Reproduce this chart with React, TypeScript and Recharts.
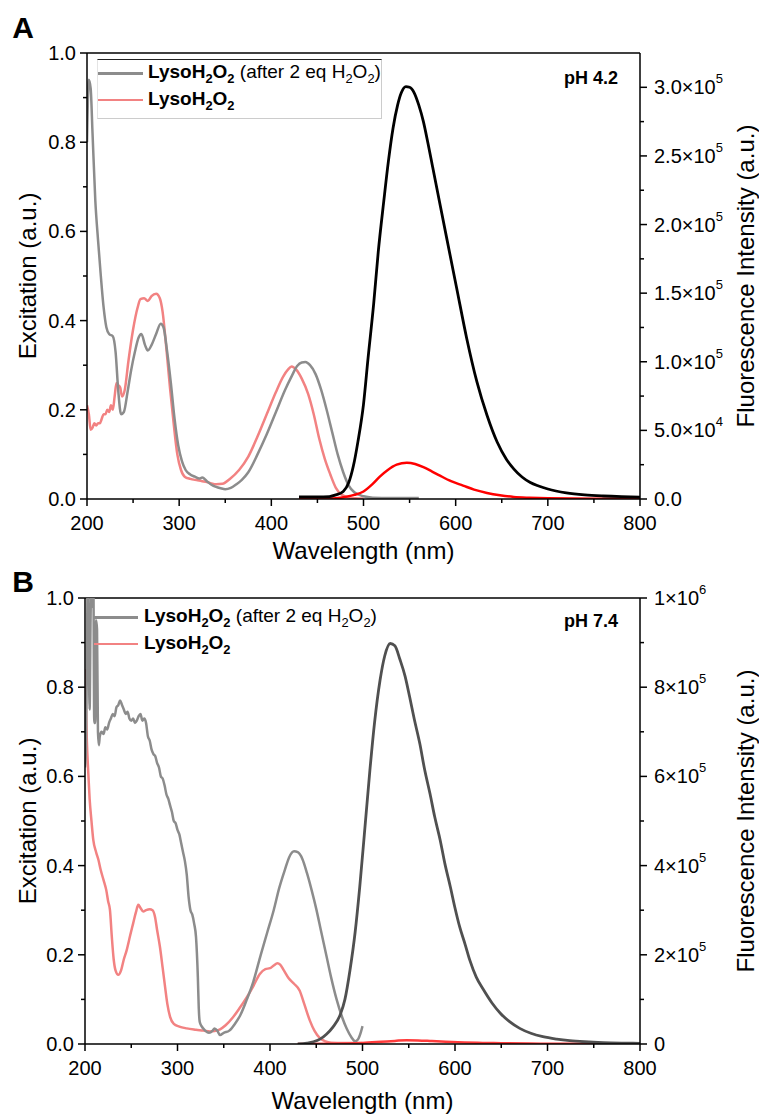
import React from 'react';
import { ComposedChart, Line, XAxis, YAxis, ReferenceLine } from 'recharts';

const FONT = '"Liberation Sans", Arial, Helvetica, sans-serif';

// shared axis ticks
const xTicks = [200, 250, 300, 350, 400, 450, 500, 550, 600, 650, 700, 750, 800];
const leftTicks = [0, 0.1, 0.2, 0.3, 0.4, 0.5, 0.6, 0.7, 0.8, 0.9, 1.0];
const rightTicksA = [0, 25000, 50000, 75000, 100000, 125000, 150000, 175000, 200000, 225000, 250000, 275000, 300000];
const rightTicksB = [0, 100000, 200000, 300000, 400000, 500000, 600000, 700000, 800000, 900000, 1000000];

// Panel A (pH 4.2) - excitation [nm, a.u.]
const exAfterA: [number, number][] = [
  [200, 0.8], [202, 0.94], [204, 0.92], [206, 0.82], [209, 0.67], [212, 0.58], [215, 0.5], [218, 0.43],
  [221, 0.385], [224, 0.37], [228, 0.365], [231, 0.33], [234, 0.24], [237, 0.19], [240, 0.195], [244, 0.24],
  [248, 0.29], [252, 0.33], [256, 0.362], [259, 0.37], [263, 0.345], [266, 0.333], [270, 0.345], [275, 0.37],
  [280, 0.393], [283, 0.385], [287, 0.33], [291, 0.26], [295, 0.18], [299, 0.12], [303, 0.085], [307, 0.065],
  [312, 0.055], [317, 0.05], [322, 0.046], [325, 0.048], [330, 0.04], [335, 0.032], [340, 0.027], [345, 0.024],
  [350, 0.022], [356, 0.025], [362, 0.033], [368, 0.043], [375, 0.06], [385, 0.1], [395, 0.145], [405, 0.195],
  [415, 0.245], [422, 0.275], [428, 0.298], [433, 0.306], [437, 0.307], [442, 0.3], [448, 0.28], [454, 0.245],
  [460, 0.2], [466, 0.15], [472, 0.1], [478, 0.06], [484, 0.03], [490, 0.015], [500, 0.006], [510, 0.003],
  [530, 0.002], [560, 0.002],
];
const exBeforeA: [number, number][] = [
  [200, 0.21], [202, 0.19], [204, 0.155], [206, 0.16], [208, 0.17], [210, 0.165], [212, 0.17], [214, 0.17],
  [216, 0.18], [218, 0.19], [220, 0.19], [222, 0.2], [224, 0.195], [226, 0.21], [228, 0.2], [230, 0.23],
  [232, 0.26], [234, 0.255], [236, 0.25], [238, 0.23], [241, 0.245], [245, 0.31], [250, 0.38], [255, 0.43],
  [258, 0.448], [262, 0.45], [266, 0.444], [270, 0.455], [275, 0.46], [279, 0.45], [282, 0.42], [286, 0.34],
  [290, 0.25], [294, 0.17], [298, 0.1], [302, 0.065], [306, 0.05], [312, 0.045], [320, 0.042], [325, 0.04],
  [330, 0.038], [335, 0.035], [340, 0.033], [347, 0.034], [355, 0.045], [365, 0.065], [375, 0.095], [385, 0.14],
  [395, 0.19], [405, 0.24], [413, 0.275], [418, 0.29], [422, 0.297], [427, 0.29], [433, 0.27], [440, 0.235],
  [446, 0.19], [452, 0.135], [458, 0.09], [464, 0.055], [470, 0.025], [476, 0.01], [485, 0.003], [500, 0.001],
];
// Panel A - emission [nm, counts]
const emAfterA: [number, number][] = [
  [430, 1500], [450, 1500], [463, 1800], [470, 3000], [478, 5500], [484, 12000], [489, 24000], [494, 42000],
  [500, 69000], [505, 103000], [511, 142000], [516, 180000], [522, 217000], [527, 246000], [532, 270000],
  [537, 287000], [541, 296000], [546, 300500], [550, 300000], [555, 296000], [560, 287000], [565, 275000],
  [570, 259000], [575, 242000], [580, 225000], [590, 191000], [601, 154000], [612, 117000], [623, 85500],
  [634, 61000], [645, 41500], [655, 29000], [663, 22000], [672, 16000], [681, 12000], [690, 9500], [700, 7300],
  [720, 4500], [740, 3000], [760, 2200], [780, 1700], [800, 1400],
];
const emBeforeA: [number, number][] = [
  [430, 0], [460, 300], [470, 600], [480, 1500], [490, 3000], [500, 5500], [510, 11000], [518, 16500],
  [526, 21000], [536, 25000], [547, 26400], [556, 25500], [565, 23200], [574, 20200], [583, 17000], [595, 13000],
  [608, 9800], [620, 6800], [634, 4400], [648, 2700], [663, 1500], [680, 900], [700, 500], [750, 250], [800, 150],
];

// Panel B (pH 7.4) - excitation
const exAfterB: [number, number][] = [
  [200, 0.62], [201, 0.66], [202, 0.85], [203, 1.05], [204, 0.9], [205, 0.75], [206, 0.95], [207, 1.05],
  [208, 0.98], [209, 1.05], [210, 0.72], [211, 0.72], [212, 0.95], [213, 0.93], [214, 0.7], [215, 0.67],
  [216, 0.69], [218, 0.7], [220, 0.695], [222, 0.71], [224, 0.705], [226, 0.72], [228, 0.73], [230, 0.74],
  [232, 0.735], [234, 0.755], [236, 0.76], [238, 0.77], [240, 0.76], [242, 0.75], [244, 0.74], [246, 0.745],
  [248, 0.73], [250, 0.725], [252, 0.73], [254, 0.72], [256, 0.725], [258, 0.735], [260, 0.74], [262, 0.725],
  [264, 0.73], [266, 0.72], [268, 0.69], [270, 0.68], [272, 0.66], [274, 0.65], [276, 0.645], [278, 0.63],
  [280, 0.62], [282, 0.6], [284, 0.595], [286, 0.58], [288, 0.56], [290, 0.55], [292, 0.535], [294, 0.52],
  [296, 0.5], [298, 0.495], [300, 0.48], [302, 0.47], [304, 0.45], [306, 0.43], [308, 0.41], [310, 0.38],
  [312, 0.33], [314, 0.3], [316, 0.29], [318, 0.27], [320, 0.24], [322, 0.15], [323, 0.08], [324, 0.05],
  [326, 0.04], [330, 0.03], [334, 0.025], [338, 0.03], [340, 0.035], [343, 0.03], [346, 0.02], [350, 0.025],
  [356, 0.03], [362, 0.045], [368, 0.065], [375, 0.1], [382, 0.14], [390, 0.2], [397, 0.25], [404, 0.3],
  [410, 0.35], [416, 0.39], [421, 0.42], [426, 0.432], [430, 0.43], [435, 0.415], [440, 0.383], [445, 0.345],
  [450, 0.303], [455, 0.255], [461, 0.198], [466, 0.15], [472, 0.1], [478, 0.06], [483, 0.034], [488, 0.015],
  [492, 0.006], [495, 0.01], [498, 0.025], [500, 0.04],
];
const exBeforeB: [number, number][] = [
  [200, 0.84], [201, 0.76], [202, 0.68], [203.5, 0.61], [205, 0.55], [207, 0.5], [209, 0.457], [212, 0.43],
  [214.5, 0.413], [217, 0.39], [220, 0.368], [223, 0.345], [225, 0.32], [227, 0.3], [229, 0.24], [231, 0.19],
  [233, 0.165], [236, 0.155], [239, 0.165], [242, 0.19], [245, 0.21], [249, 0.245], [252, 0.27], [255, 0.295],
  [257.6, 0.312], [260, 0.305], [263, 0.297], [266, 0.3], [270, 0.302], [273, 0.3], [275.7, 0.285], [278, 0.255],
  [281, 0.218], [284, 0.17], [286.5, 0.129], [289, 0.09], [292, 0.061], [296, 0.045], [302, 0.039], [310, 0.035],
  [320, 0.032], [328, 0.03], [335, 0.028], [340, 0.029], [346, 0.033], [352, 0.042], [360, 0.06], [367, 0.08],
  [375, 0.105], [382, 0.13], [389, 0.157], [395, 0.168], [400, 0.17], [404, 0.176], [408, 0.181], [411, 0.178],
  [415, 0.165], [420, 0.148], [426, 0.135], [432, 0.12], [437, 0.09], [443, 0.053], [448, 0.03], [454, 0.013],
  [460, 0.006], [466, 0.003], [480, 0.002], [500, 0.002],
];
// Panel B - emission
const emAfterB: [number, number][] = [
  [430, 0], [440, 2000], [447, 5000], [454, 11000], [461, 22000], [468, 38000], [476, 66000], [481, 100000],
  [486.5, 166000], [492, 250000], [497, 352000], [502, 470000], [508, 614000], [513, 720000], [519, 816000],
  [524, 870000], [530, 898000], [535, 893000], [540.5, 862000], [546, 825000], [551, 778000], [556, 728000],
  [562, 673000], [567, 617000], [573, 561000], [578, 510000], [584, 457000], [589, 405000], [595, 352000],
  [600, 305000], [605, 263000], [611, 223000], [616, 188000], [623, 150000], [631, 121000], [640, 92000],
  [649, 69000], [659, 50000], [670, 35000], [682, 24000], [695, 16400], [710, 11000], [724, 7500], [740, 5000],
  [760, 3000], [780, 2000], [800, 1500],
];
const emBeforeB: [number, number][] = [
  [430, 0], [470, 500], [500, 2500], [520, 5000], [535, 7000], [548, 8500], [560, 8000], [575, 6500],
  [590, 5000], [610, 3500], [630, 2500], [650, 1800], [680, 1000], [720, 500], [800, 300],
];

const toPts = (arr: [number, number][]) => arr.map(([w, v]) => ({ w, v }));

const sci = (v: number, decimals: number, zero: string) => {
  if (v === 0) return { m: zero, e: '' };
  const e = Math.floor(Math.log10(v) + 1e-9);
  return { m: (v / Math.pow(10, e)).toFixed(decimals) + '×10', e: String(e) };
};

const TICK_FS = 20;
const TITLE_FS = 24;

const XTick = (props: any) => {
  const { x, y, payload } = props;
  const major = payload.value % 100 === 0;
  return (
    <g>
      <line x1={x} x2={x} y1={y} y2={y + (major ? 7 : 4)} stroke="#000" strokeWidth={1.5} />
      {major && (
        <text x={x} y={y + 24} textAnchor="middle" dominantBaseline="central" fontSize={TICK_FS} fontFamily={FONT} fill="#000">
          {payload.value}
        </text>
      )}
    </g>
  );
};

const LeftTick = (props: any) => {
  const { x, y, payload } = props;
  const major = Math.round(payload.value * 10) % 2 === 0;
  return (
    <g>
      <line x1={x} x2={x - (major ? 7 : 4)} y1={y} y2={y} stroke="#000" strokeWidth={1.5} />
      {major && (
        <text x={x - 11} y={y} textAnchor="end" dominantBaseline="central" fontSize={TICK_FS} fontFamily={FONT} fill="#000">
          {payload.value.toFixed(1)}
        </text>
      )}
    </g>
  );
};

const makeRightTick = (majorStep: number, decimals: number, zero: string) => (props: any) => {
  const { x, y, payload } = props;
  const major = Math.round(payload.value / majorStep) * majorStep === payload.value;
  const { m, e } = sci(payload.value, decimals, zero);
  return (
    <g>
      <line x1={x} x2={x + (major ? 7 : 4)} y1={y} y2={y} stroke="#000" strokeWidth={1.5} />
      {major && (
        <text x={x + 14} y={y} textAnchor="start" dominantBaseline="central" fontSize={TICK_FS} fontFamily={FONT} fill="#000">
          <tspan>{m}</tspan>
          {e && <tspan dy={-9} fontSize={13}>{e}</tspan>}
        </text>
      )}
    </g>
  );
};

const axisLine = { stroke: '#000', strokeWidth: 1.5 };

const Sub = ({ children }: { children: React.ReactNode }) => (
  <span style={{ fontSize: '0.68em', position: 'relative', top: '0.35em' }}>{children}</span>
);

interface PanelProps {
  top: number;
  height: number;
  leftW: number;
  rightMax: number;
  rightTicks: number[];
  majorStep: number;
  decimals: number;
  zero: string;
  xTitleDy: number;
  exAfter: [number, number][];
  exBefore: [number, number][];
  emAfter: [number, number][];
  emBefore: [number, number][];
  emAfterColor: string;
  emBeforeColor: string;
}

const Panel = (p: PanelProps) => {
  const RightTick = makeRightTick(p.majorStep, p.decimals, p.zero);
  return (
    <div style={{ position: 'absolute', left: 0, top: p.top }}>
      <ComposedChart width={759} height={p.height} margin={{ top: 53, right: 0, bottom: 0, left: 0 }}>
        <XAxis
          dataKey="w"
          type="number"
          domain={[200, 800]}
          ticks={xTicks}
          interval={0}
          allowDataOverflow
          axisLine={axisLine}
          tickLine={false}
          tickSize={0}
          tickMargin={0}
          tick={XTick}
          height={p.height - 53 - 446}
          label={({ viewBox }: any) => (
            <text x={viewBox.x + viewBox.width / 2} y={viewBox.y + p.xTitleDy} textAnchor="middle" dominantBaseline="central" fontSize={TITLE_FS} fontFamily={FONT} fill="#000">
              Wavelength (nm)
            </text>
          )}
        />
        <YAxis
          yAxisId="ex"
          orientation="left"
          type="number"
          domain={[0, 1]}
          ticks={leftTicks}
          interval={0}
          allowDataOverflow
          width={p.leftW}
          axisLine={axisLine}
          tickLine={false}
          tickSize={0}
          tickMargin={0}
          tick={LeftTick}
          label={({ viewBox }: any) => (
            <text x={27} y={viewBox.y + viewBox.height / 2} transform={`rotate(-90 27 ${viewBox.y + viewBox.height / 2})`} textAnchor="middle" dominantBaseline="central" fontSize={TITLE_FS} fontFamily={FONT} fill="#000">
              Excitation (a.u.)
            </text>
          )}
        />
        <YAxis
          yAxisId="fl"
          orientation="right"
          type="number"
          domain={[0, p.rightMax]}
          ticks={p.rightTicks}
          interval={0}
          allowDataOverflow
          width={119}
          axisLine={axisLine}
          tickLine={false}
          tickSize={0}
          tickMargin={0}
          tick={RightTick}
          label={({ viewBox }: any) => (
            <text x={745} y={viewBox.y + viewBox.height / 2} transform={`rotate(-90 745 ${viewBox.y + viewBox.height / 2})`} textAnchor="middle" dominantBaseline="central" fontSize={TITLE_FS} fontFamily={FONT} fill="#000">
              Fluorescence Intensity (a.u.)
            </text>
          )}
        />
        <ReferenceLine yAxisId="ex" y={1} stroke="#000" strokeWidth={1.5} />
        <Line data={toPts(p.exBefore)} dataKey="v" yAxisId="ex" type="monotone" stroke="#f28282" strokeWidth={2.5} dot={false} isAnimationActive={false} />
        <Line data={toPts(p.exAfter)} dataKey="v" yAxisId="ex" type="monotone" stroke="#8c8c8c" strokeWidth={2.5} dot={false} isAnimationActive={false} />
        <Line data={toPts(p.emBefore)} dataKey="v" yAxisId="fl" type="monotone" stroke={p.emBeforeColor} strokeWidth={2.5} dot={false} isAnimationActive={false} />
        <Line data={toPts(p.emAfter)} dataKey="v" yAxisId="fl" type="monotone" stroke={p.emAfterColor} strokeWidth={2.8} dot={false} isAnimationActive={false} />
      </ComposedChart>
    </div>
  );
};

const LegendRows = ({ left, top, lineLeft, lineW, textLeft, gap }: any) => (
  <div style={{ position: 'absolute', left, top, fontFamily: FONT, fontSize: 19, color: '#000' }}>
    <div style={{ position: 'absolute', left: lineLeft, top: -1, width: lineW, height: 3, background: '#8c8c8c' }} />
    <div style={{ position: 'absolute', left: textLeft, top: -12, whiteSpace: 'nowrap', lineHeight: '22px' }}>
      <b>LysoH<Sub>2</Sub>O<Sub>2</Sub></b> (after 2 eq H<Sub>2</Sub>O<Sub>2</Sub>)
    </div>
    <div style={{ position: 'absolute', left: lineLeft, top: gap - 1, width: lineW, height: 2, background: '#f28282' }} />
    <div style={{ position: 'absolute', left: textLeft, top: gap - 12, whiteSpace: 'nowrap', lineHeight: '22px' }}>
      <b>LysoH<Sub>2</Sub>O<Sub>2</Sub></b>
    </div>
  </div>
);

const Tag = ({ text, right, y, size }: any) => (
  <div style={{ position: 'absolute', right, top: y - size / 2 - 1, fontFamily: FONT, fontWeight: 'bold', fontSize: size, lineHeight: `${size + 2}px`, color: '#000' }}>
    {text}
  </div>
);

export default function App() {
  return (
    <div style={{ position: 'absolute', left: 0, top: 0, width: 759, height: 1114, background: '#fff', overflow: 'hidden' }}>
      <Panel
        top={0} height={572} leftW={87} rightMax={325000} rightTicks={rightTicksA} majorStep={50000} decimals={1} zero="0.0" xTitleDy={51}
        exAfter={exAfterA} exBefore={exBeforeA} emAfter={emAfterA} emBefore={emBeforeA} emAfterColor="#000" emBeforeColor="#ff0000"
      />
      <Panel
        top={545} height={569} leftW={85} rightMax={1000000} rightTicks={rightTicksB} majorStep={200000} decimals={0} zero="0" xTitleDy={56}
        exAfter={exAfterB} exBefore={exBeforeB} emAfter={emAfterB} emBefore={emBeforeB} emAfterColor="#505050" emBeforeColor="#ff3b3b"
      />

      {/* legend A with frame */}
      <div style={{ position: 'absolute', left: 97, top: 59, width: 283, height: 58, borderTop: '1.5px solid #222', borderRight: '1px solid #ccc', borderBottom: '1px solid #ccc', borderLeft: '1px solid #e4e4e4', background: '#fff' }} />
      <LegendRows left={97} top={73} lineLeft={1} lineW={45} textLeft={51} gap={27} />
      <LegendRows left={93} top={617} lineLeft={1} lineW={44} textLeft={51} gap={27} />

      <Tag text="pH 4.2" right={759 - 618} y={78} size={18} />
      <Tag text="pH 7.4" right={759 - 618} y={621} size={18} />
      <Tag text="A" right={759 - 34} y={28} size={30} />
      <Tag text="B" right={759 - 34} y={582} size={30} />
    </div>
  );
}
